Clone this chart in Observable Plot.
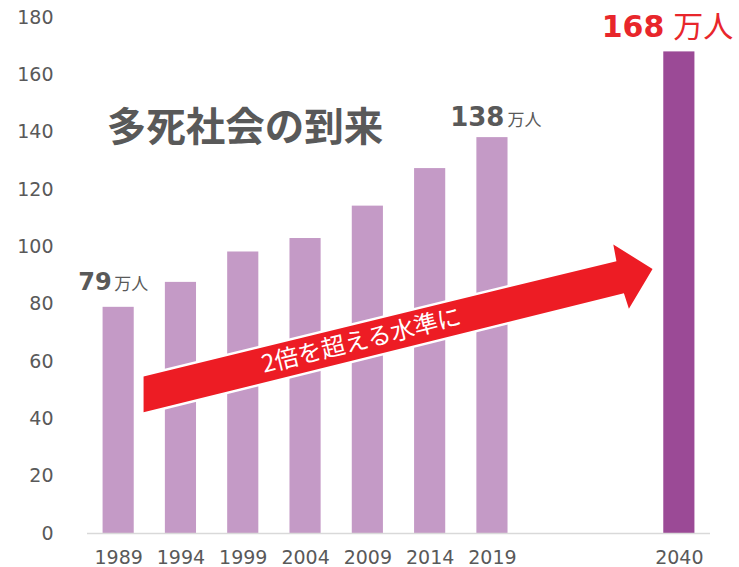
<!DOCTYPE html>
<html><head><meta charset="utf-8">
<script src="https://cdn.jsdelivr.net/npm/d3@7"></script>
<script src="https://cdn.jsdelivr.net/npm/@observablehq/plot@0.6"></script>
<style>html,body{margin:0;padding:0;background:#fff}</style>
</head><body><div id="chart"></div>
<script>
// ---- data ----
const years  = ["1989","1994","1999","2004","2009","2014","2019","2040"];
const slots  = [0, 1, 2, 3, 4, 5, 6, 9];          // axis slot of each year (two skipped periods before 2040)
const deaths = [78.9, 87.6, 98.2, 102.9, 114.2, 127.3, 138.1, 168.0]; // 万人
const yTicks = [0, 20, 40, 60, 80, 100, 120, 140, 160, 180];
const unit = "万人";
const title = "多死社会の到来";
const arrowText = "2倍を超える水準に";
// arrow annotation outline (slot, value units)
const arrowX = [0.40, 7.99, 7.94, 8.57, 8.19, 8.11, 0.40];
const arrowY = [54.8, 95.0, 100.8, 92.3, 78.4, 83.8, 42.3];

const rows = years.map((y, i) => ({year: y, slot: slots[i], value: deaths[i]}));
const arrow = arrowX.map((x, i) => ({x, y: arrowY[i]}));

const GREY = "#595959", LIGHT = "#c49ac6", DARK = "#9b4a96", RED = "#ed1c24";
const NUMF = "DejaVu Sans, Verdana, sans-serif";
const JPF = "Noto Sans CJK JP, sans-serif";

function valueLabel(i, numSize, unitSize, color, dxNum, dxUnit, dy) {
  const d = [rows[i]];
  return [
    Plot.text(d, {x: "slot", y: "value", text: r => String(Math.round(r.value)),
      textAnchor: "end", lineAnchor: "bottom", dx: dxNum, dy,
      fontSize: numSize, fontWeight: "bold", fontFamily: NUMF, fill: color}),
    Plot.text(d, {x: "slot", y: "value", text: () => unit,
      textAnchor: "start", lineAnchor: "bottom", dx: dxUnit, dy,
      fontSize: unitSize, fontFamily: JPF, fill: color})
  ];
}

const chart = Plot.plot({
  width: 739, height: 567,
  marginLeft: 87, marginRight: 29, marginTop: 17, marginBottom: 34,
  style: {fontFamily: NUMF, fontSize: "19px", color: GREY, background: "#fff"},
  x: {type: "linear", domain: [-0.5, 9.5]},
  y: {domain: [0, 180]},
  marks: [
    Plot.rectY(rows.filter(r => r.year !== "2040"), {x1: r => r.slot - 0.25, x2: r => r.slot + 0.25, y: "value", fill: LIGHT}),
    Plot.rectY(rows.filter(r => r.year === "2040"), {x1: r => r.slot - 0.25, x2: r => r.slot + 0.25, y: "value", fill: DARK}),
    Plot.ruleY([0], {stroke: "#d9d9d9", strokeWidth: 1.5}),
    Plot.axisY({ticks: yTicks, tickSize: 0, tickPadding: 34, label: null, fontSize: 19, fill: GREY}),
    Plot.axisX({ticks: slots, tickSize: 0, tickPadding: 17, label: null, fontSize: 19, fill: GREY,
      tickFormat: d => years[slots.indexOf(d)]}),
    Plot.line(arrow, {x: "x", y: "y", curve: "linear-closed", fill: RED, stroke: "#fff", strokeWidth: 5, paintOrder: "stroke"}),
    Plot.text([arrowText], {x: 3.898, y: 67.15, text: d => d, rotate: -13.8, fill: "#fff",
      fontSize: 24, fontFamily: JPF}),
    Plot.text([title], {x: 2.03, y: 141.3, text: d => d, fontSize: 39.5, fontWeight: "bold",
      fontFamily: JPF, fill: GREY}),
    ...valueLabel(0, 24, 17, GREY, -7, -4.5, -17.3),
    ...valueLabel(6, 26, 17, GREY, 12, 15, -12),
    ...valueLabel(7, 30, 30, "#e8262b", -15, -6, -15.4)
  ]
});
document.getElementById("chart").append(chart);
</script>
</body></html>
